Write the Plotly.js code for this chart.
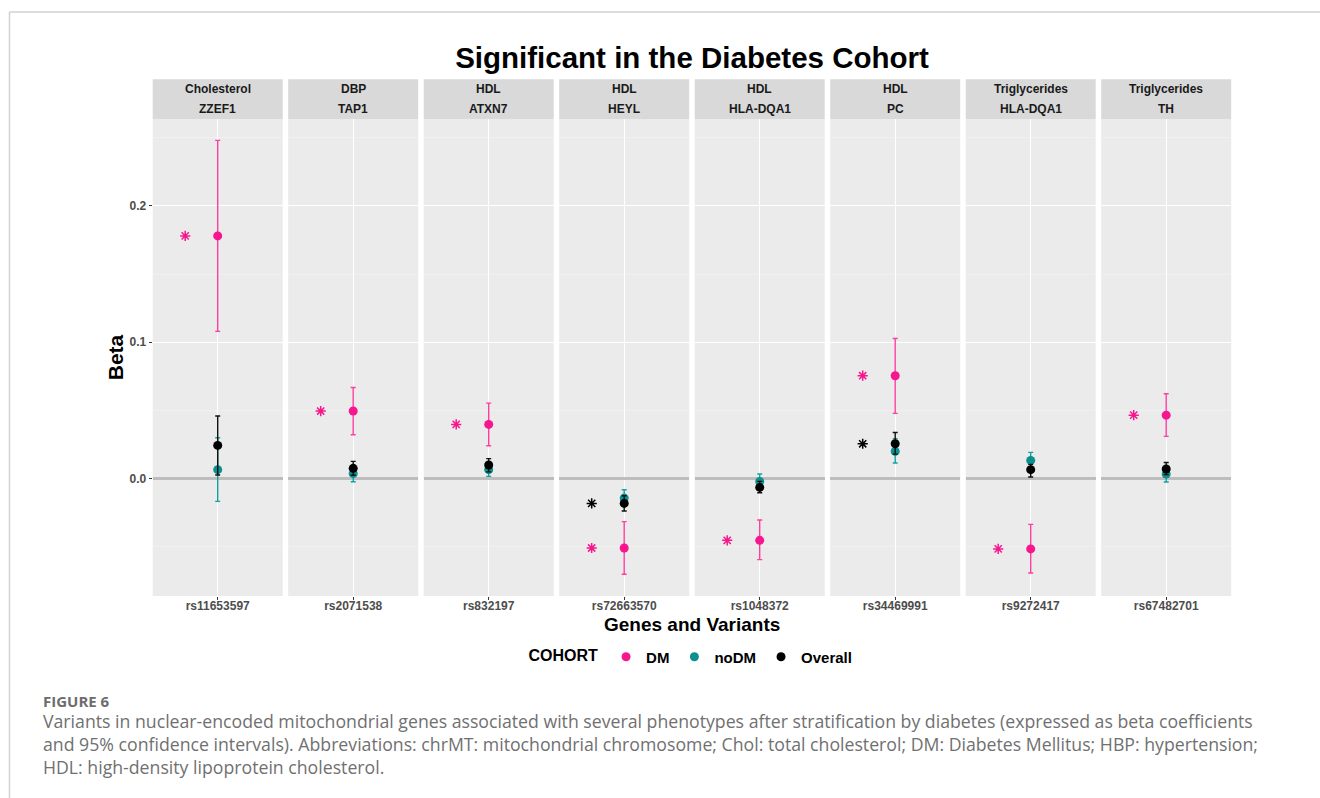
<!DOCTYPE html>
<html>
<head>
<meta charset="utf-8">
<script src="https://cdn.plot.ly/plotly-3.0.1.min.js"></script>
<style>
html,body{margin:0;padding:0;background:#fff;}
#chart{width:1320px;height:798px;}
</style>
</head>
<body>
<div id="chart"></div>
<script>
// ---------- data ----------
const variants = ['rs11653597','rs2071538','rs832197','rs72663570','rs1048372','rs34469991','rs9272417','rs67482701'];
const traits   = ['Cholesterol','DBP','HDL','HDL','HDL','HDL','Triglycerides','Triglycerides'];
const genes    = ['ZZEF1','TAP1','ATXN7','HEYL','HLA-DQA1','PC','HLA-DQA1','TH'];

const cohorts = ['DM','noDM','Overall'];

const dm_beta = [0.178, 0.0496, 0.0398, -0.0508, -0.0452, 0.0755, -0.0515, 0.0466];
const dm_lo   = [0.108, 0.0322, 0.0242, -0.0701, -0.0593, 0.0479, -0.0691, 0.0310];
const dm_hi   = [0.248, 0.0669, 0.0554, -0.0315, -0.0303, 0.1028, -0.0335, 0.0623];

const nodm_beta = [0.0066, 0.0037, 0.0066, -0.0142, -0.0020, 0.0200, 0.0134, 0.0034];
const nodm_lo   = [-0.0166, -0.0022, 0.0017, -0.0200, -0.0065, 0.0115, 0.0075, -0.0024];
const nodm_hi   = [0.0300, 0.0090, 0.0110, -0.0081, 0.0034, 0.0293, 0.0193, 0.0080];

const overall_beta = [0.0244, 0.0076, 0.0100, -0.0181, -0.0064, 0.0256, 0.0066, 0.0071];
const overall_lo   = [0.0027, 0.0025, 0.0050, -0.0237, -0.0103, 0.0180, 0.0012, 0.0030];
const overall_hi   = [0.0460, 0.0127, 0.0147, -0.0125, -0.0020, 0.0339, 0.0105, 0.0119];

// significance stars (1 = starred)
const dm_sig      = [1,1,1,1,1,1,1,1];
const nodm_sig    = [0,0,0,0,0,0,0,0];
const overall_sig = [0,0,0,1,0,1,0,0];

// ---------- style / layout ----------
const W = 1320, H = 798;
const fx = x => x / W;
const fy = y => 1 - y / H;
const PANEL_LEFT = 152.7, PANEL_PITCH = 135.5, PANEL_W = 130;
const PANEL_TOP = 119, PANEL_BOTTOM = 596, STRIP_TOP = 79.3;
const STAR_X = 0.7;
const FONT = 'Liberation Sans, Arial, Helvetica, sans-serif';

const series = [
  {name: cohorts[0], beta: dm_beta, lo: dm_lo, hi: dm_hi, sig: dm_sig, color: '#f7168d', bar: '#ff3fa0'},
  {name: cohorts[1], beta: nodm_beta, lo: nodm_lo, hi: nodm_hi, sig: nodm_sig, color: '#0d8f8f', bar: '#17a2a2'},
  {name: cohorts[2], beta: overall_beta, lo: overall_lo, hi: overall_hi, sig: overall_sig, color: '#000000', bar: '#111111'}
];

const traces = [];
const layout = {
  width: W, height: H,
  margin: {l: 0, r: 0, t: 0, b: 0},
  paper_bgcolor: '#ffffff',
  plot_bgcolor: '#ebebeb',
  showlegend: true,
  font: {family: FONT, color: '#000'},
  title: {
    text: 'Significant in the Diabetes Cohort',
    x: fx(692), xanchor: 'center', xref: 'paper',
    y: fy(58), yanchor: 'middle', yref: 'paper',
    font: {family: FONT, size: 29.5, weight: 'bold', color: '#000'}
  },
  legend: {
    orientation: 'h', x: fx(692), xanchor: 'center', y: fy(657), yanchor: 'middle',
    title: {text: 'COHORT', side: 'left', font: {family: FONT, size: 16, weight: 'bold', color: '#000'}},
    font: {family: FONT, size: 15, weight: 'bold', color: '#000'},
    itemwidth: 30, tracegroupgap: 0, bgcolor: 'rgba(0,0,0,0)'
  },
  shapes: [],
  annotations: []
};

// page frame
layout.shapes.push({type: 'line', xref: 'paper', yref: 'paper', x0: fx(9.5), x1: 1, y0: fy(12), y1: fy(12), line: {color: '#d2d2d2', width: 1.5}});
layout.shapes.push({type: 'line', xref: 'paper', yref: 'paper', x0: fx(9.5), x1: fx(9.5), y0: 0, y1: fy(12), line: {color: '#d2d2d2', width: 1.5}});

const tickFont = {family: FONT, size: 12, color: '#4d4d4d', weight: 'bold'};

for (let i = 0; i < variants.length; i++) {
  const xa = i === 0 ? 'x' : 'x' + (i + 1);
  const ya = i === 0 ? 'y' : 'y' + (i + 1);
  const xkey = i === 0 ? 'xaxis' : 'xaxis' + (i + 1);
  const ykey = i === 0 ? 'yaxis' : 'yaxis' + (i + 1);
  const left = PANEL_LEFT + PANEL_PITCH * i;
  const right = left + PANEL_W;

  layout[xkey] = {
    domain: [fx(left), fx(right)], anchor: ya,
    range: [0.4, 1.6], tickvals: [1], ticktext: [variants[i]],
    showgrid: true, gridcolor: '#ffffff', gridwidth: 1.1,
    zeroline: false, showline: false,
    ticks: 'outside', ticklen: 2.5, tickcolor: '#333333', tickwidth: 1,
    ticklabelstandoff: -4,
    tickfont: tickFont, fixedrange: true
  };
  layout[ykey] = {
    domain: [fy(PANEL_BOTTOM), fy(PANEL_TOP)], anchor: xa,
    range: [-0.086, 0.2637], dtick: 0.1, tick0: 0, tickformat: '.1f',
    showgrid: true, gridcolor: '#ffffff', gridwidth: 1.1,
    minor: {dtick: 0.05, showgrid: true, gridcolor: '#f4f4f4', gridwidth: 0.6, ticks: ''},
    zeroline: true, zerolinecolor: '#bdbdbd', zerolinewidth: 2.4,
    showline: false, fixedrange: true,
    showticklabels: i === 0,
    ticks: i === 0 ? 'outside' : '', ticklen: 3, tickcolor: '#333333', tickwidth: 1,
    tickfont: tickFont
  };
  if (i > 0) layout[ykey].matches = 'y';
  if (i === 0) {
    layout[ykey].title = {text: 'Beta', font: {family: FONT, size: 21, weight: 'bold', color: '#000'}, standoff: 0};
  }

  // strip background + labels
  layout.shapes.push({type: 'rect', xref: 'paper', yref: 'paper', x0: fx(left), x1: fx(right), y0: fy(PANEL_TOP), y1: fy(STRIP_TOP), fillcolor: '#d9d9d9', line: {width: 0}, layer: 'below'});
  layout.annotations.push({xref: 'paper', yref: 'paper', x: fx((left + right) / 2), y: fy(89.5), text: traits[i], showarrow: false, xanchor: 'center', yanchor: 'middle', font: {family: FONT, size: 12, weight: 'bold', color: '#1a1a1a'}});
  layout.annotations.push({xref: 'paper', yref: 'paper', x: fx((left + right) / 2), y: fy(109), text: genes[i], showarrow: false, xanchor: 'center', yanchor: 'middle', font: {family: FONT, size: 12, weight: 'bold', color: '#1a1a1a'}});

  // points with 95% CI
  series.forEach((s) => {
    traces.push({
      type: 'scatter', mode: 'markers', xaxis: xa, yaxis: ya,
      x: [1], y: [s.beta[i]],
      name: s.name, legendgroup: s.name, showlegend: i === 0,
      marker: {color: s.color, size: 9, line: {width: 0}},
      error_y: {type: 'data', symmetric: false, array: [s.hi[i] - s.beta[i]], arrayminus: [s.beta[i] - s.lo[i]], color: s.bar, thickness: 1.4, width: 2.5},
      hoverinfo: 'skip', cliponaxis: false
    });
  });
  // stars
  series.forEach((s) => {
    if (s.sig[i]) {
      traces.push({
        type: 'scatter', mode: 'markers', xaxis: xa, yaxis: ya,
        x: [STAR_X], y: [s.beta[i]],
        name: s.name + ' *', legendgroup: s.name, showlegend: false,
        marker: {symbol: 'asterisk-open', size: 8.5, color: s.color, line: {color: s.color, width: 1.5}},
        hoverinfo: 'skip'
      });
    }
  });
}

// x axis title
layout.annotations.push({xref: 'paper', yref: 'paper', x: fx(692), y: fy(624), text: 'Genes and Variants', showarrow: false, xanchor: 'center', yanchor: 'middle', font: {family: FONT, size: 19, weight: 'bold', color: '#000'}});

// caption
const CAP_FONT = 'Open Sans, Lato, sans-serif';
layout.annotations.push({xref: 'paper', yref: 'paper', x: fx(41), y: fy(701), text: 'FIGURE 6', showarrow: false, xanchor: 'left', yanchor: 'middle', font: {family: CAP_FONT, size: 15, weight: 'bold', color: '#6d6d6d'}});
const captionLines = [
  'Variants in nuclear-encoded mitochondrial genes associated with several phenotypes after stratification by diabetes (expressed as beta coefficients',
  'and 95% confidence intervals). Abbreviations: chrMT: mitochondrial chromosome; Chol: total cholesterol; DM: Diabetes Mellitus; HBP: hypertension;',
  'HDL: high-density lipoprotein cholesterol.'
];
const capY = [721, 744, 767];
captionLines.forEach((t, j) => {
  layout.annotations.push({xref: 'paper', yref: 'paper', x: fx(41), y: fy(capY[j]), text: t, showarrow: false, xanchor: 'left', yanchor: 'middle', font: {family: CAP_FONT, size: 17.7, color: '#707070'}});
});

Plotly.newPlot('chart', traces, layout, {displayModeBar: false, staticPlot: true});
</script>
</body>
</html>
